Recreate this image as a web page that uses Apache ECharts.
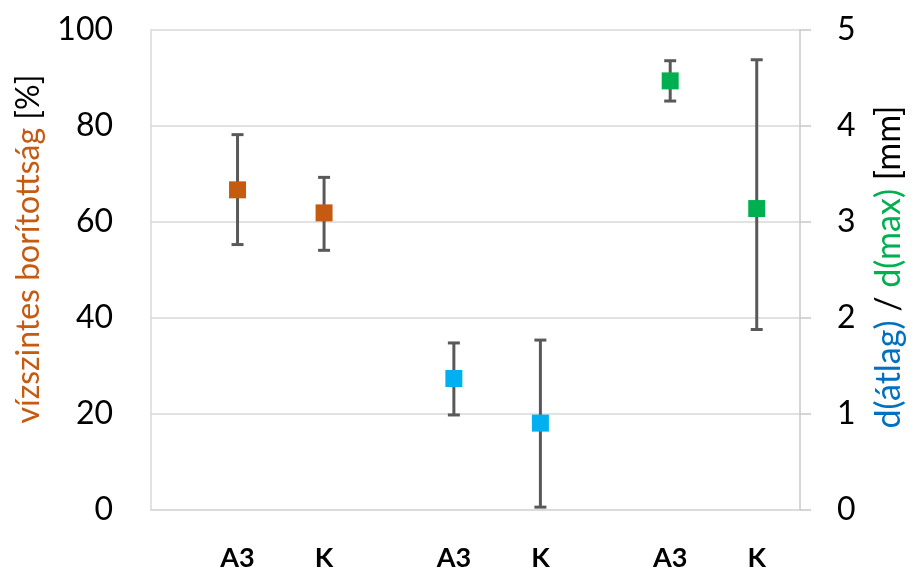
<!DOCTYPE html>
<html>
<head>
<meta charset="utf-8">
<script src="https://cdn.jsdelivr.net/npm/echarts@6/dist/echarts.min.js"></script>
<style>html,body{margin:0;padding:0;background:#fff;}#chart{width:914px;height:572px;}</style>
</head>
<body>
<div id="chart"></div>
<script>
const categories = ['', '', 'A3', '', 'K', '', '', 'A3', '', 'K', '', '', 'A3', '', 'K', ''];
const leftTicks = [0, 20, 40, 60, 80, 100];
const rightTicks = [0, 1, 2, 3, 4, 5];

const coverX = [2, 4];
const coverMean = [66.7, 61.9];
const coverLow = [55.3, 54.1];
const coverHigh = [78.2, 69.3];

const avgX = [7, 9];
const avgMean = [1.37, 0.905];
const avgLow = [0.99, 0.03];
const avgHigh = [1.74, 1.77];

const maxX = [12, 14];
const maxMean = [4.47, 3.14];
const maxLow = [4.26, 1.88];
const maxHigh = [4.68, 4.69];

const FONT = 'Lato';
const ERR = '#595959';

function pts(xs, ys) { return xs.map((x, i) => [x, ys[i]]); }
function errs(xs, lo, hi) { return xs.map((x, i) => [x, lo[i], hi[i]]); }

function renderErr(params, api) {
  const x = api.value(0);
  const lo = api.coord([x, api.value(1)]);
  const hi = api.coord([x, api.value(2)]);
  const cap = 6;
  const st = { stroke: ERR, lineWidth: 3 };
  return {
    type: 'group',
    children: [
      { type: 'line', shape: { x1: lo[0], y1: lo[1], x2: hi[0], y2: hi[1] }, style: st },
      { type: 'line', shape: { x1: lo[0] - cap, y1: lo[1], x2: lo[0] + cap, y2: lo[1] }, style: st },
      { type: 'line', shape: { x1: hi[0] - cap, y1: hi[1], x2: hi[0] + cap, y2: hi[1] }, style: st }
    ]
  };
}

function errSeries(data, yi) {
  return { type: 'custom', xAxisIndex: 0, yAxisIndex: yi, data: data, renderItem: renderErr, z: 2, silent: true,
    encode: { x: 0, y: [1, 2] } };
}
function ptSeries(data, yi, color) {
  return { type: 'scatter', yAxisIndex: yi, data: data, symbol: 'rect', symbolSize: 17,
    itemStyle: { color: color, opacity: 1 }, z: 5, silent: true };
}

const chart = echarts.init(document.getElementById('chart'));
chart.setOption({
  animation: false,
  backgroundColor: '#fff',
  textStyle: { fontFamily: FONT },
  grid: { left: 151, right: 107, top: 30, bottom: 57, containLabel: false },
  xAxis: {
    type: 'category',
    data: categories,
    boundaryGap: false,
    axisLine: { show: true, lineStyle: { color: '#d9d9d9', width: 1.5 } },
    axisTick: { show: false },
    splitLine: { show: false },
    axisLabel: { interval: 0, margin: 35, color: '#000', fontSize: 27, fontWeight: 'bold', fontFamily: FONT }
  },
  yAxis: [
    {
      type: 'value', min: 0, max: 100, interval: 20, position: 'left',
      axisLine: { show: true, lineStyle: { color: '#d9d9d9', width: 1.5 } },
      axisTick: { show: false },
      splitLine: { show: true, lineStyle: { color: '#d9d9d9', width: 1.5 } },
      axisLabel: { margin: 38, color: '#000', fontSize: 32, fontFamily: FONT,
        formatter: v => leftTicks.indexOf(v) >= 0 ? String(v) : '' },
      name: '{o|vízszintes borítottság}{k| [%]}',
      nameLocation: 'middle', nameGap: 106,
      nameTextStyle: {
        fontSize: 32,
        padding: [0, 0, 0, 42],
        rich: {
          o: { color: '#C55A11', fontSize: 32, fontFamily: FONT },
          k: { color: '#000', fontSize: 32, fontFamily: FONT }
        }
      }
    },
    {
      type: 'value', min: 0, max: 5, interval: 1, position: 'right',
      axisLine: { show: true, lineStyle: { color: '#c8c8c8', width: 1.5 } },
      axisTick: { show: true, length: 11, lineStyle: { color: '#c8c8c8', width: 1.5 } },
      splitLine: { show: false },
      axisLabel: { margin: 37, color: '#000', fontSize: 32, fontFamily: FONT,
        formatter: v => rightTicks.indexOf(v) >= 0 ? String(v) : '' },
      name: '{b|d(átlag)}{k| / }{g|d(max)}{k| [mm]}',
      nameLocation: 'middle', nameGap: 72, nameRotate: 90,
      nameTextStyle: {
        fontSize: 34,
        padding: [0, 0, 0, 6],
        rich: {
          b: { color: '#0070C0', fontSize: 34, fontFamily: FONT },
          g: { color: '#00B050', fontSize: 34, fontFamily: FONT },
          k: { color: '#000', fontSize: 34, fontFamily: FONT }
        }
      }
    }
  ],
  series: [
    errSeries(errs(coverX, coverLow, coverHigh), 0),
    errSeries(errs(avgX, avgLow, avgHigh), 1),
    errSeries(errs(maxX, maxLow, maxHigh), 1),
    ptSeries(pts(coverX, coverMean), 0, '#C55A11'),
    ptSeries(pts(avgX, avgMean), 1, '#00B0F0'),
    ptSeries(pts(maxX, maxMean), 1, '#00B050')
  ]
});
</script>
</body>
</html>
